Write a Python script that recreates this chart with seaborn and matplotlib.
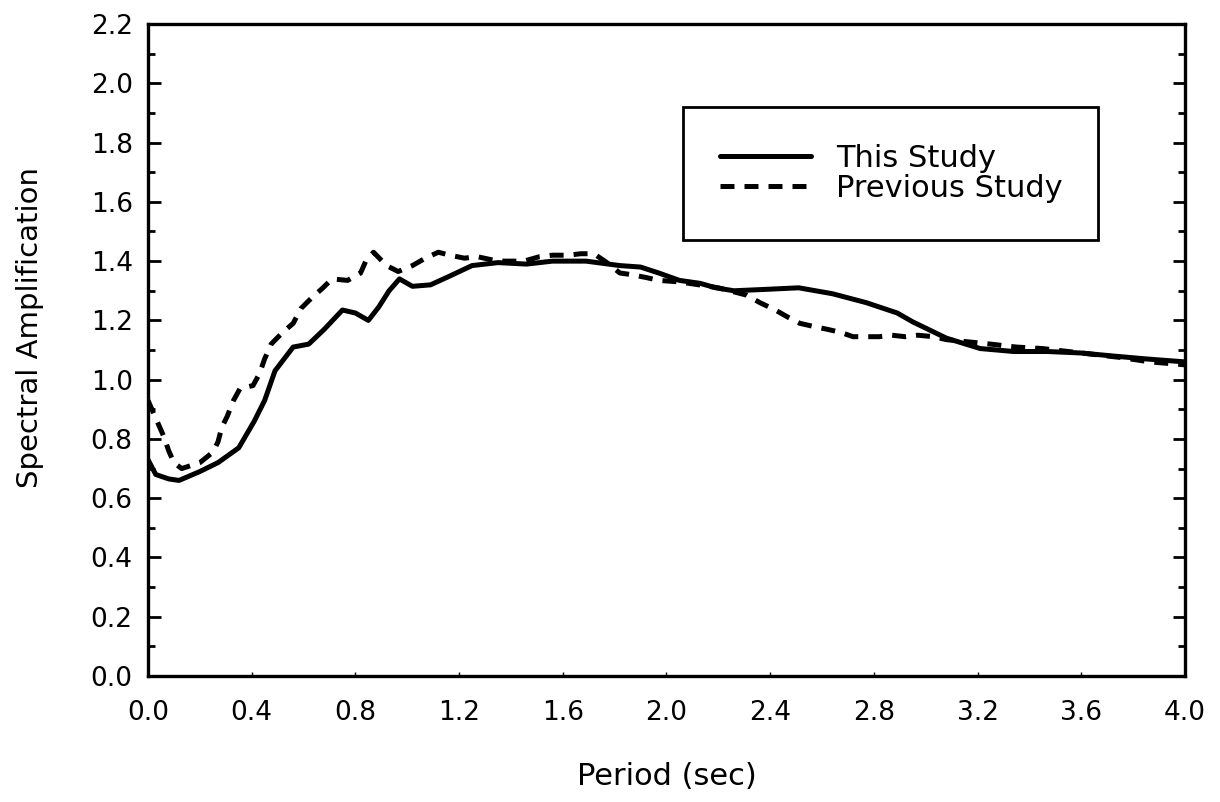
import numpy as np
import pandas as pd
import matplotlib
matplotlib.use("Agg")
import matplotlib.pyplot as plt
import seaborn as sns
from matplotlib.ticker import MultipleLocator

# Spectral amplification vs. period
this_period = [0.00, 0.03, 0.08, 0.12, 0.16, 0.20, 0.27, 0.35, 0.41, 0.45, 0.49,
               0.56, 0.62, 0.68, 0.75, 0.80, 0.85, 0.89, 0.93, 0.97, 1.02, 1.09,
               1.165, 1.25, 1.35, 1.46, 1.56, 1.69, 1.82, 1.90, 1.97, 2.05, 2.13,
               2.19, 2.26, 2.39, 2.51, 2.64, 2.77, 2.89, 2.95, 3.08, 3.21, 3.34,
               3.47, 3.60, 3.72, 3.85, 4.00]
this_amp = [0.73, 0.68, 0.665, 0.66, 0.675, 0.69, 0.72, 0.77, 0.86, 0.93, 1.03,
            1.11, 1.12, 1.17, 1.235, 1.225, 1.20, 1.245, 1.30, 1.34, 1.315, 1.32,
            1.35, 1.385, 1.395, 1.39, 1.40, 1.40, 1.385, 1.38, 1.36, 1.335, 1.325,
            1.31, 1.30, 1.305, 1.31, 1.29, 1.26, 1.225, 1.195, 1.14, 1.105, 1.095,
            1.095, 1.09, 1.08, 1.07, 1.06]

prev_period = [0.00, 0.04, 0.06, 0.08, 0.10, 0.13, 0.20, 0.25, 0.27, 0.285, 0.305,
               0.33, 0.355, 0.405, 0.43, 0.45, 0.475, 0.52, 0.56, 0.59, 0.63,
               0.675, 0.71, 0.77, 0.82, 0.84, 0.87, 0.92, 0.965, 1.02, 1.07, 1.12,
               1.165, 1.22, 1.27, 1.35, 1.45, 1.51, 1.56, 1.62, 1.67, 1.72, 1.77,
               1.82, 1.86, 1.92, 1.97, 2.05, 2.20, 2.31, 2.36, 2.42, 2.47, 2.515,
               2.565, 2.62, 2.67, 2.72, 2.77, 2.82, 2.87, 2.92, 2.97, 3.03, 3.08,
               3.25, 3.35, 3.45, 3.60, 3.75, 3.865, 4.00]
prev_amp = [0.93, 0.85, 0.81, 0.76, 0.72, 0.70, 0.72, 0.755, 0.79, 0.84, 0.875,
            0.93, 0.97, 0.98, 1.02, 1.07, 1.12, 1.16, 1.19, 1.24, 1.275,
            1.31, 1.34, 1.335, 1.36, 1.40, 1.43, 1.385, 1.365, 1.385, 1.41, 1.43,
            1.42, 1.41, 1.415, 1.40, 1.40, 1.415, 1.42, 1.42, 1.425, 1.425, 1.395,
            1.36, 1.355, 1.345, 1.335, 1.33, 1.31, 1.285, 1.26, 1.235, 1.21, 1.19,
            1.18, 1.17, 1.16, 1.145, 1.145, 1.145, 1.15, 1.145, 1.15, 1.145, 1.135,
            1.12, 1.11, 1.105, 1.09, 1.075, 1.06, 1.05]

x_ticks = [0.0, 0.4, 0.8, 1.2, 1.6, 2.0, 2.4, 2.8, 3.2, 3.6, 4.0]
y_ticks = [0.0, 0.2, 0.4, 0.6, 0.8, 1.0, 1.2, 1.4, 1.6, 1.8, 2.0, 2.2]

sns.set_style("white")
plt.rcParams["font.family"] = ["DejaVu Sans"]
plt.rcParams["text.color"] = "black"
plt.rcParams["axes.labelcolor"] = "black"
plt.rcParams["xtick.color"] = "black"
plt.rcParams["ytick.color"] = "black"

fig = plt.figure(figsize=(12.2, 8.02), dpi=100)
ax = fig.add_axes([0.1213, 0.1571, 0.85, 0.8129])

this_df = pd.DataFrame({"Period": this_period, "Amp": this_amp})
prev_df = pd.DataFrame({"Period": prev_period, "Amp": prev_amp})

sns.lineplot(data=this_df, x="Period", y="Amp", ax=ax, color="black",
             linewidth=3.6, label="This Study", sort=False)
sns.lineplot(data=prev_df, x="Period", y="Amp", ax=ax, color="black",
             linewidth=3.6, label="Previous Study", sort=False)
ax.lines[1].set_dashes((2.8, 2.0))

ax.set_xlim(0, 4.0)
ax.set_ylim(0, 2.2)
ax.set_xticks(x_ticks)
ax.set_xticklabels([f"{v:.1f}" for v in x_ticks])
ax.set_yticks(y_ticks)
ax.set_yticklabels([f"{v:.1f}" for v in y_ticks])
ax.yaxis.set_minor_locator(MultipleLocator(0.1))

ax.tick_params(axis="y", which="major", direction="in", length=9, width=2,
               left=True, right=True, labelsize=19, pad=11)
ax.tick_params(axis="y", which="minor", direction="in", length=5, width=2,
               left=True, right=True)
ax.tick_params(axis="x", which="major", direction="in", length=3, width=1,
               bottom=True, top=False, labelsize=19, pad=17)

for s in ax.spines.values():
    s.set_linewidth(2.4)
    s.set_color("black")

ax.set_xlabel("Period (sec)", fontsize=22, labelpad=26)
ax.set_ylabel("Spectral Amplification", fontsize=21)
ax.yaxis.set_label_coords(-0.100, 0.535)

leg = ax.legend(loc="lower left", bbox_to_anchor=(0.516, 0.669, 0.400, 0.202),
                mode="expand", fontsize=22, frameon=True, fancybox=False,
                handlelength=3.0, handletextpad=0.8, borderpad=1.2,
                labelspacing=0.05, borderaxespad=0)
leg.get_frame().set_edgecolor("black")
leg.get_frame().set_linewidth(2)
leg.get_frame().set_alpha(1)

fig.savefig("out.png", dpi=100, facecolor="white")
